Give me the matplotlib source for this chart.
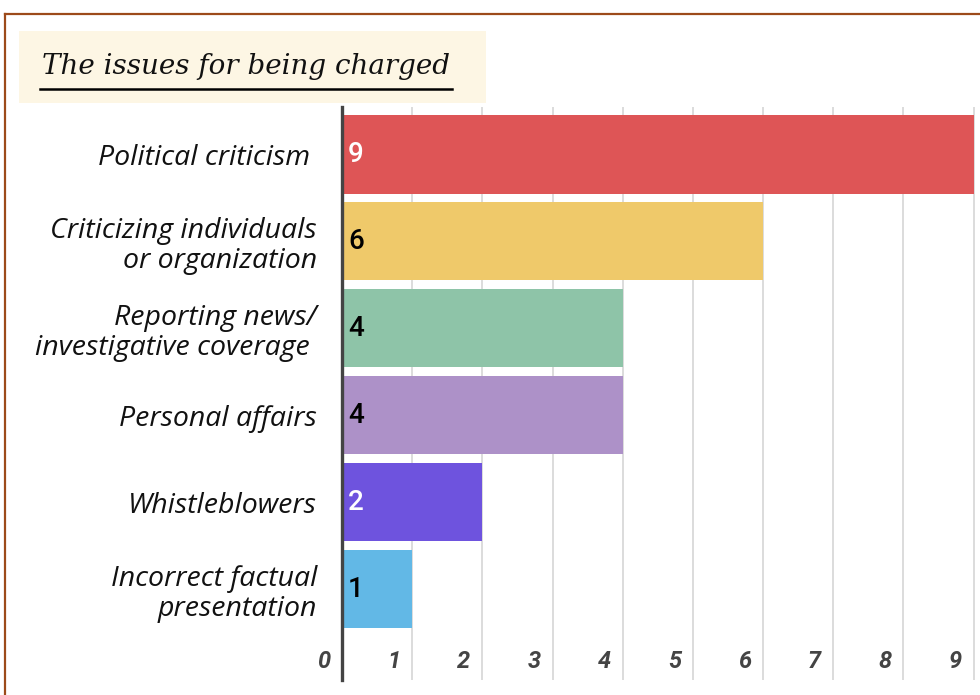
import matplotlib.pyplot as plt
from matplotlib.patches import Rectangle
from matplotlib.lines import Line2D
from matplotlib.transforms import blended_transform_factory, offset_copy

categories = [
    "Political criticism ",
    "Criticizing individuals\nor organization",
    "Reporting news/\ninvestigative coverage ",
    "Personal affairs",
    "Whistleblowers",
    "Incorrect factual\npresentation",
]
values = [9, 6, 4, 4, 2, 1]
colors = ["#de5556", "#efc96a", "#8ec4a8", "#ad91c8", "#6e53de", "#62b8e6"]
label_colors = ["white", "black", "black", "black", "white", "black"]
xticks = list(range(10))
title = "The issues for being charged"

W, H = 980, 695
fig = plt.figure(figsize=(W / 100, H / 100), dpi=100)

# frame border (brown) along top and left
fig.add_artist(Line2D([5 / W, 1], [1 - 14 / H, 1 - 14 / H], color="#9c4a1a", lw=1.6))
fig.add_artist(Line2D([5 / W, 5 / W], [0, 1 - 14 / H], color="#9c4a1a", lw=1.6))

# title box
fig.add_artist(Rectangle((19 / W, 1 - 103 / H), 467 / W, 72 / H,
                         facecolor="#fdf6e4", edgecolor="none"))
fig.text(42 / W, 1 - 66 / H, title, fontsize=20, style="italic",
         family="DejaVu Serif", va="center", ha="left", color="#111111")
fig.add_artist(Line2D([40 / W, 452 / W], [1 - 89 / H, 1 - 89 / H], color="black", lw=1.8))

ax = fig.add_axes([342 / W, 1 - 680 / H, (W - 342) / W, (680 - 107) / H])
ypos = list(range(len(categories)))
ax.barh(ypos, values, height=0.9, color=colors, zorder=2)
ax.set_xlim(0, 9.09)
ax.set_ylim(len(categories) - 1 + 1.046, -0.546)

for x in xticks[1:]:
    ax.axvline(x, color="#dcdcdc", lw=1.4, zorder=1)

for s in ["top", "right", "bottom"]:
    ax.spines[s].set_visible(False)
ax.spines["left"].set_color("#444444")
ax.spines["left"].set_linewidth(2.4)
ax.spines["left"].set_zorder(3)

ax.set_xticks([])
ax.set_yticks(ypos)
ax.set_yticklabels(categories, fontsize=20.5, style="italic", family="Open Sans",
                   color="#111111", linespacing=1.1)
ax.tick_params(axis="y", length=0, pad=18)

# value labels inside bars
lab_tr = offset_copy(ax.transData, fig=fig, x=6, y=0, units="dots")
for y, v, c in zip(ypos, values, label_colors):
    ax.text(0, y, str(v), transform=lab_tr, ha="left", va="center",
            fontsize=20, family="Roboto", weight="medium", color=c, zorder=4)

# x tick labels drawn inside the axes, left of each gridline
tr = blended_transform_factory(ax.transData, ax.transAxes)
tr = offset_copy(tr, fig=fig, x=-12, y=0, units="dots")
for x in xticks:
    ax.text(x, 18 / 573, str(x), transform=tr, ha="right", va="center",
            fontsize=17, family="Roboto", style="italic", weight="bold",
            color="#444444")

fig.savefig("out.png", dpi=100)
